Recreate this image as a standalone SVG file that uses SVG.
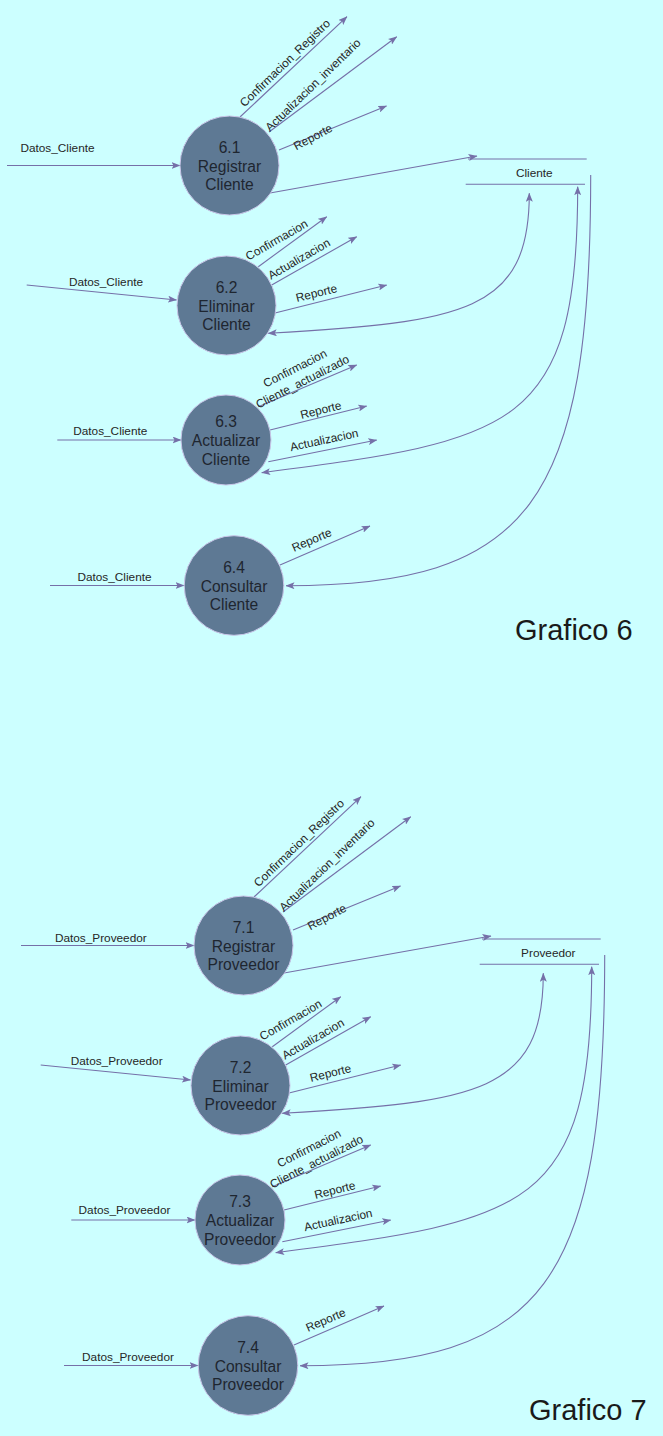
<svg xmlns="http://www.w3.org/2000/svg" width="663" height="1436" viewBox="0 0 663 1436">
<style>
.bg{fill:#CCFFFF}
.proc{fill:#5E7994;stroke:#C9C6E8;stroke-width:1}
.pt{font-family:"Liberation Sans",Arial,sans-serif;font-size:15.6px;fill:#1E2630;text-anchor:middle}
.lb{font-family:"Liberation Sans",Arial,sans-serif;font-size:11.8px;fill:#262626;text-anchor:middle;dominant-baseline:central}
.st{stroke:#7570A8;stroke-width:1.1;fill:none}
.fl{stroke:#7570A8;stroke-width:1.1;fill:none;marker-end:url(#ah)}
.bi{stroke:#7570A8;stroke-width:1.1;fill:none;marker-end:url(#ah);marker-start:url(#ah)}
.title{font-family:"Liberation Sans",Arial,sans-serif;font-size:29px;fill:#1A1A1A}
</style>
<defs>
<marker id="ah" viewBox="0 0 9 7" refX="8.5" refY="3.5" markerWidth="9" markerHeight="7" markerUnits="userSpaceOnUse" orient="auto-start-reverse">
<path d="M0,0 L9,3.5 L0,7 L2,3.5 Z" fill="#7570A8"/>
</marker>
</defs>
<rect class="bg" x="0" y="0" width="663" height="1436"/>

<g id="connectors">
<!-- Grafico 6 -->
<path class="fl" d="M7,165.5 L180,165.5"/>
<path class="fl" d="M26.7,285 L176.5,300"/>
<path class="fl" d="M57.3,440 L181,440"/>
<path class="fl" d="M50,585.5 L184,585.5"/>
<path class="fl" d="M240,117 L347,16.7"/>
<path class="fl" d="M269,132 L396.7,36.7"/>
<path class="fl" d="M279,150 L386.5,106"/>
<path class="fl" d="M270,193 L477,156"/>
<path class="fl" d="M258.3,266.7 L326.7,216.7"/>
<path class="fl" d="M271.7,285 L356.7,236.7"/>
<path class="fl" d="M275,313 L386.7,285"/>
<path class="fl" d="M258.3,406.7 L356.7,365"/>
<path class="fl" d="M270,430 L366.7,406"/>
<path class="fl" d="M268.3,461.7 L376.7,440"/>
<path class="fl" d="M280,565 L370,526"/>
<path class="bi" d="M529.3,193.3 C529.3,312.3 464,322 268.3,333.3"/>
<path class="bi" d="M577.7,186.7 C577.7,430 514,440 261.7,472.7"/>
<path class="fl" d="M590.7,175 C590.7,503.6 529.8,585.7 286,585.7"/>
<text class="lb" x="57.5" y="148">Datos_Cliente</text>
<text class="lb" x="106" y="282">Datos_Cliente</text>
<text class="lb" x="110.3" y="431">Datos_Cliente</text>
<text class="lb" x="114.5" y="577">Datos_Cliente</text>
<text class="lb" transform="translate(285,63) rotate(-44)">Confirmacion_Registro</text>
<text class="lb" transform="translate(313,85) rotate(-44)">Actualizacion_inventario</text>
<text class="lb" transform="translate(313,137) rotate(-28)">Reporte</text>
<text class="lb" transform="translate(276.7,240) rotate(-30)">Confirmacion</text>
<text class="lb" transform="translate(299,259) rotate(-30)">Actualizacion</text>
<text class="lb" transform="translate(316.5,293) rotate(-14)">Reporte</text>
<text class="lb" transform="translate(295,368.3) rotate(-27)">Confirmacion</text>
<text class="lb" transform="translate(302.5,381.7) rotate(-27)">Cliente_actualizado</text>
<text class="lb" transform="translate(320.8,410) rotate(-14)">Reporte</text>
<text class="lb" transform="translate(324.2,440) rotate(-12)">Actualizacion</text>
<text class="lb" transform="translate(311.7,540) rotate(-23)">Reporte</text>

<!-- Grafico 7 -->
<path class="fl" d="M21,945.5 L194,945.5"/>
<path class="fl" d="M40.7,1065 L190.5,1080"/>
<path class="fl" d="M71.3,1220 L195,1220"/>
<path class="fl" d="M64,1365.5 L198,1365.5"/>
<path class="fl" d="M254,897 L361,796.7"/>
<path class="fl" d="M283,912 L410.7,816.7"/>
<path class="fl" d="M293,930 L400.5,886"/>
<path class="fl" d="M284,973 L491,936"/>
<path class="fl" d="M272.3,1046.7 L340.7,996.7"/>
<path class="fl" d="M285.7,1065 L370.7,1016.7"/>
<path class="fl" d="M289,1093 L400.7,1065"/>
<path class="fl" d="M272.3,1186.7 L370.7,1145"/>
<path class="fl" d="M284,1210 L380.7,1186"/>
<path class="fl" d="M282.3,1241.7 L390.7,1220"/>
<path class="fl" d="M294,1345 L384,1306"/>
<path class="bi" d="M543.3,973.3 C543.3,1092.3 478,1102 282.3,1113.3"/>
<path class="bi" d="M591.7,966.7 C591.7,1210 528,1220 275.7,1252.7"/>
<path class="fl" d="M604.7,955 C604.7,1283.6 543.8,1365.7 300,1365.7"/>
<text class="lb" x="100.8" y="938">Datos_Proveedor</text>
<text class="lb" x="116.7" y="1061">Datos_Proveedor</text>
<text class="lb" x="124.5" y="1210">Datos_Proveedor</text>
<text class="lb" x="128" y="1357">Datos_Proveedor</text>
<text class="lb" transform="translate(299,843) rotate(-44)">Confirmacion_Registro</text>
<text class="lb" transform="translate(327,865) rotate(-44)">Actualizacion_inventario</text>
<text class="lb" transform="translate(327,917) rotate(-28)">Reporte</text>
<text class="lb" transform="translate(290.7,1020) rotate(-30)">Confirmacion</text>
<text class="lb" transform="translate(313,1039) rotate(-30)">Actualizacion</text>
<text class="lb" transform="translate(330.5,1073) rotate(-14)">Reporte</text>
<text class="lb" transform="translate(309,1148.3) rotate(-27)">Confirmacion</text>
<text class="lb" transform="translate(316.5,1161.7) rotate(-27)">Cliente_actualizado</text>
<text class="lb" transform="translate(334.8,1190) rotate(-14)">Reporte</text>
<text class="lb" transform="translate(338.2,1220) rotate(-12)">Actualizacion</text>
<text class="lb" transform="translate(325.7,1320) rotate(-23)">Reporte</text>
</g>

<g id="p6_1"><circle class="proc" cx="229.5" cy="165.5" r="49.5"/>
<text class="pt" x="229.5" y="152.5">6.1</text><text class="pt" x="229.5" y="171.5">Registrar</text><text class="pt" x="229.5" y="190">Cliente</text></g>
<g id="p6_2"><circle class="proc" cx="226.5" cy="305.5" r="49.5"/>
<text class="pt" x="226.5" y="292.5">6.2</text><text class="pt" x="226.5" y="311.5">Eliminar</text><text class="pt" x="226.5" y="330">Cliente</text></g>
<g id="p6_3"><circle class="proc" cx="226" cy="440" r="45"/>
<text class="pt" x="226" y="427">6.3</text><text class="pt" x="226" y="446">Actualizar</text><text class="pt" x="226" y="464.5">Cliente</text></g>
<g id="p6_4"><circle class="proc" cx="234" cy="585.5" r="49.8"/>
<text class="pt" x="234" y="572.5">6.4</text><text class="pt" x="234" y="591.5">Consultar</text><text class="pt" x="234" y="610">Cliente</text></g>
<g id="store_cliente">
<line class="st" x1="468" y1="159" x2="586.7" y2="159"/>
<line class="st" x1="465.7" y1="184.3" x2="585" y2="184.3"/>
<text class="lb" x="534.3" y="172.7">Cliente</text>
</g>
<text class="title" x="515" y="640">Grafico 6</text>

<g id="p7_1"><circle class="proc" cx="243.5" cy="945.5" r="49.5"/>
<text class="pt" x="243.5" y="932.5">7.1</text><text class="pt" x="243.5" y="951.5">Registrar</text><text class="pt" x="243.5" y="970">Proveedor</text></g>
<g id="p7_2"><circle class="proc" cx="240.5" cy="1085.5" r="49.5"/>
<text class="pt" x="240.5" y="1072.5">7.2</text><text class="pt" x="240.5" y="1091.5">Eliminar</text><text class="pt" x="240.5" y="1110">Proveedor</text></g>
<g id="p7_3"><circle class="proc" cx="240" cy="1220" r="45"/>
<text class="pt" x="240" y="1207">7.3</text><text class="pt" x="240" y="1226">Actualizar</text><text class="pt" x="240" y="1244.5">Proveedor</text></g>
<g id="p7_4"><circle class="proc" cx="248" cy="1365.5" r="49.8"/>
<text class="pt" x="248" y="1352.5">7.4</text><text class="pt" x="248" y="1371.5">Consultar</text><text class="pt" x="248" y="1390">Proveedor</text></g>
<g id="store_proveedor">
<line class="st" x1="482" y1="939" x2="600.7" y2="939"/>
<line class="st" x1="479.7" y1="964.3" x2="599" y2="964.3"/>
<text class="lb" x="548.3" y="952.7">Proveedor</text>
</g>
<text class="title" x="529" y="1420">Grafico 7</text>
</svg>
